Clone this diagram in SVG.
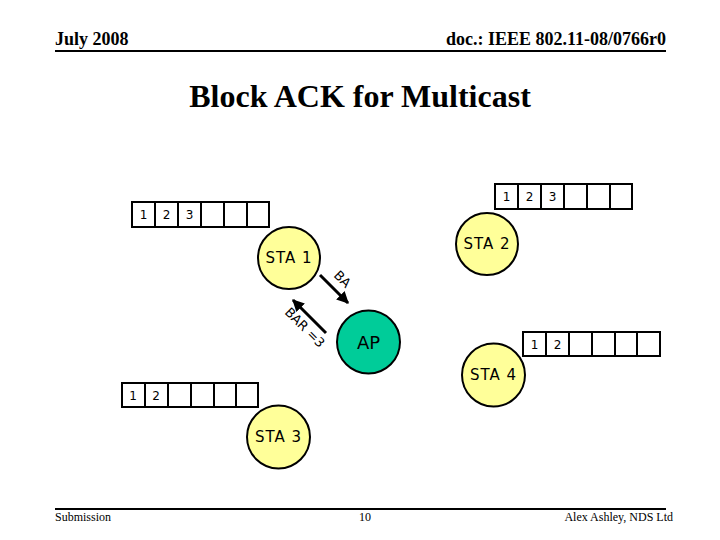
<svg xmlns="http://www.w3.org/2000/svg" width="720" height="540" viewBox="0 0 720 540">
<defs>
<marker id="ah" viewBox="0 0 10 10" refX="9" refY="5" markerWidth="4" markerHeight="4" orient="auto" markerUnits="strokeWidth">
<path d="M0,0 L10,5 L0,10 z" fill="#000"/>
</marker>
<style>
.hdr{font-family:"Liberation Serif",serif;font-weight:bold;font-size:18px;fill:#000}
.ftr{font-family:"Liberation Serif",serif;font-size:12px;fill:#000}
.ttl{font-family:"Liberation Serif",serif;font-weight:bold;font-size:32px;fill:#000}
.lbl{font-family:"DejaVu Sans",Verdana,sans-serif;font-size:15px;letter-spacing:1px;fill:#000}
.num{font-family:"DejaVu Sans",Verdana,sans-serif;font-size:12px;fill:#000}
.cl{font-family:"DejaVu Sans",Verdana,sans-serif;font-size:13px;fill:#000}
.sta{fill:#FFFF99;stroke:#000;stroke-width:2}
.ap{fill:#00CC99;stroke:#000;stroke-width:2}
.cell{fill:#fff;stroke:#000;stroke-width:2}
.conn{stroke:#000;stroke-width:3;fill:none}
</style>
</defs>
<rect width="720" height="540" fill="#fff"/>
<g id="header">
<text class="hdr" x="55" y="45">July 2008</text>
<text class="hdr" x="666" y="45" text-anchor="end">doc.: IEEE 802.11-08/0766r0</text>
<line x1="55" y1="51" x2="666" y2="51" stroke="#000" stroke-width="2"/>
</g>
<g id="footer">
<line x1="55" y1="509" x2="666" y2="509" stroke="#000" stroke-width="2"/>
<text class="ftr" x="55" y="521">Submission</text>
<text class="ftr" x="365" y="521" text-anchor="middle">10</text>
<text class="ftr" x="673" y="521" text-anchor="end">Alex Ashley, NDS Ltd</text>
</g>
<text class="ttl" x="360" y="107" text-anchor="middle">Block ACK for Multicast</text>

<g id="buf1">
<rect class="cell" x="132" y="202" width="23" height="25"/>
<rect class="cell" x="155" y="202" width="23" height="25"/>
<rect class="cell" x="178" y="202" width="23" height="25"/>
<rect class="cell" x="201" y="202" width="23" height="25"/>
<rect class="cell" x="224" y="202" width="23" height="25"/>
<rect class="cell" x="247" y="202" width="22" height="25"/>
<text class="num" x="143.5" y="219" text-anchor="middle">1</text>
<text class="num" x="166.5" y="219" text-anchor="middle">2</text>
<text class="num" x="189.5" y="219" text-anchor="middle">3</text>
</g>
<g id="buf2">
<rect class="cell" x="495" y="184" width="23" height="25"/>
<rect class="cell" x="518" y="184" width="23" height="25"/>
<rect class="cell" x="541" y="184" width="23" height="25"/>
<rect class="cell" x="564" y="184" width="23" height="25"/>
<rect class="cell" x="587" y="184" width="23" height="25"/>
<rect class="cell" x="610" y="184" width="22" height="25"/>
<text class="num" x="506.5" y="201" text-anchor="middle">1</text>
<text class="num" x="529.5" y="201" text-anchor="middle">2</text>
<text class="num" x="552.5" y="201" text-anchor="middle">3</text>
</g>
<g id="buf3">
<rect class="cell" x="122" y="383" width="23" height="24"/>
<rect class="cell" x="145" y="383" width="23" height="24"/>
<rect class="cell" x="168" y="383" width="23" height="24"/>
<rect class="cell" x="191" y="383" width="23" height="24"/>
<rect class="cell" x="214" y="383" width="22" height="24"/>
<rect class="cell" x="236" y="383" width="22" height="24"/>
<text class="num" x="133" y="400" text-anchor="middle">1</text>
<text class="num" x="156" y="400" text-anchor="middle">2</text>
</g>
<g id="buf4">
<rect class="cell" x="523" y="332" width="23" height="24"/>
<rect class="cell" x="546" y="332" width="23" height="24"/>
<rect class="cell" x="569" y="332" width="23" height="24"/>
<rect class="cell" x="592" y="332" width="23" height="24"/>
<rect class="cell" x="615" y="332" width="22" height="24"/>
<rect class="cell" x="637" y="332" width="23" height="24"/>
<text class="num" x="534.5" y="349" text-anchor="middle">1</text>
<text class="num" x="557.5" y="349" text-anchor="middle">2</text>
</g>

<g id="sta1">
<circle class="sta" cx="289" cy="258" r="31"/>
<text class="lbl" x="289" y="263" text-anchor="middle">STA 1</text>
</g>
<g id="sta2">
<circle class="sta" cx="487" cy="244" r="31"/>
<text class="lbl" x="487" y="249" text-anchor="middle">STA 2</text>
</g>
<g id="sta3">
<circle class="sta" cx="278.5" cy="437" r="31.5"/>
<text class="lbl" x="278.5" y="442" text-anchor="middle">STA 3</text>
</g>
<g id="sta4">
<circle class="sta" cx="493.5" cy="375" r="31.5"/>
<text class="lbl" x="493.5" y="380" text-anchor="middle">STA 4</text>
</g>
<g id="ap">
<circle class="ap" cx="368.5" cy="342" r="31.5"/>
<text x="368.5" y="349" text-anchor="middle" style="font-family:'DejaVu Sans',Verdana,sans-serif;font-size:18px;fill:#000">AP</text>
</g>

<g id="connectors">
<line class="conn" x1="320" y1="275" x2="348" y2="303" marker-end="url(#ah)"/>
<line class="conn" x1="326" y1="333" x2="293" y2="300" marker-end="url(#ah)"/>
<text class="cl" transform="translate(333,276) rotate(45)">BA</text>
<text class="cl" transform="translate(284,313) rotate(45)">BAR =3</text>
</g>
</svg>
